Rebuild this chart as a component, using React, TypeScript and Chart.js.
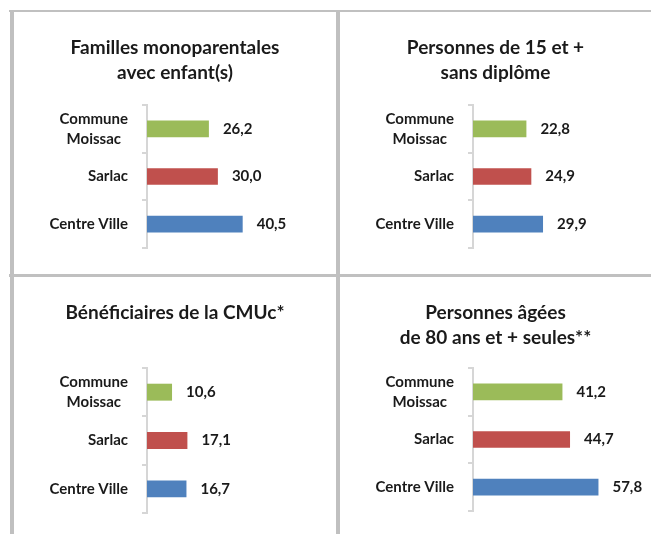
import React, { useEffect, useRef } from 'react';
import { Chart, registerables } from 'chart.js';

Chart.register(...registerables);

const categories: (string | string[])[] = [['Commune', 'Moissac'], 'Sarlac', 'Centre Ville'];
const barColors = ['#9bbb59', '#c0504d', '#4f81bd'];

const titleFamilles = ['Familles monoparentales', 'avec enfant(s)'];
const valuesFamilles = [26.2, 30.0, 40.5];

const titleDiplome = ['Personnes de 15 et +', 'sans diplôme'];
const valuesDiplome = [22.8, 24.9, 29.9];

const titleCmu = ['Bénéficiaires de la CMUc*'];
const valuesCmu = [10.6, 17.1, 16.7];

const titleAges = ['Personnes âgées', 'de 80 ans et + seules**'];
const valuesAges = [41.2, 44.7, 57.8];

const FONT = 'Lato, "Open Sans", sans-serif';
const TEXT = '#1a1a1a';
const LINE = '#c0c0c0';

const valueLabels = {
  id: 'valueLabels',
  afterDatasetsDraw(chart: any) {
    const ctx = chart.ctx;
    const meta = chart.getDatasetMeta(0);
    const data = chart.data.datasets[0].data as number[];
    ctx.save();
    ctx.font = `bold 15px ${FONT}`;
    ctx.fillStyle = TEXT;
    ctx.textAlign = 'left';
    ctx.textBaseline = 'middle';
    meta.data.forEach((bar: any, i: number) => {
      ctx.fillText(data[i].toFixed(1).replace('.', ','), bar.x + 14, bar.y);
    });
    ctx.restore();
  },
};

// Category labels: block right-aligned to the axis, lines of a block centred on each other
const categoryLabels = {
  id: 'categoryLabels',
  afterDraw(chart: any) {
    const scale = chart.scales.y;
    const ctx = chart.ctx;
    const labels = chart.data.labels as (string | string[])[];
    ctx.save();
    ctx.font = `bold 15px ${FONT}`;
    ctx.fillStyle = TEXT;
    ctx.textAlign = 'center';
    ctx.textBaseline = 'middle';
    const right = chart.chartArea.left - 19;
    const lh = 20;
    labels.forEach((label, i) => {
      const lines = Array.isArray(label) ? label : [label];
      const w = Math.max(...lines.map((l) => ctx.measureText(l).width));
      const cx = right - w / 2;
      const y0 = scale.getPixelForTick(i) - ((lines.length - 1) * lh) / 2;
      lines.forEach((l, j) => ctx.fillText(l, cx, y0 + j * lh));
    });
    ctx.restore();
  },
};

type PanelProps = {
  left: number;
  top: number;
  width: number;
  height: number;
  title: string[];
  values: number[];
  xMax: number;
  titlePadBottom: number;
  padBottom: number;
};

function Panel({ left, top, width, height, title, values, xMax, titlePadBottom, padBottom }: PanelProps) {
  const ref = useRef<HTMLCanvasElement | null>(null);
  useEffect(() => {
    if (!ref.current) return;
    const chart = new Chart(ref.current, {
      type: 'bar',
      data: {
        labels: categories,
        datasets: [
          {
            data: values,
            backgroundColor: barColors,
            borderWidth: 0,
            barPercentage: 0.35,
            categoryPercentage: 1,
          },
        ],
      },
      options: {
        indexAxis: 'y',
        animation: false,
        responsive: false,
        maintainAspectRatio: false,
        layout: { padding: { top: 0, bottom: padBottom, left: 0, right: 0 } },
        plugins: {
          legend: { display: false },
          tooltip: { enabled: false },
          title: {
            display: true,
            text: title,
            color: TEXT,
            font: { family: FONT, size: 19, weight: 'bold', lineHeight: '25px' },
            padding: { top: 23, bottom: titlePadBottom },
          },
        },
        scales: {
          x: { display: false, min: 0, max: xMax },
          y: {
            afterFit: (s: any) => {
              s.width = 133;
              s.paddingTop = 0;
              s.paddingBottom = 0;
            },
            grid: {
              display: true,
              drawOnChartArea: false,
              drawTicks: true,
              tickLength: 5,
              color: '#d6d6d6',
              lineWidth: 2,
            },
            border: { display: true, color: '#d6d6d6', width: 2 },
            ticks: {
              display: false,
              color: TEXT,
              padding: 14,
              font: { family: FONT, size: 15, weight: 'bold', lineHeight: '20px' },
            },
          },
        },
      },
      plugins: [valueLabels, categoryLabels],
    });
    return () => chart.destroy();
  }, []);
  return (
    <canvas
      ref={ref}
      width={width}
      height={height}
      style={{ position: 'absolute', left, top, width, height }}
    />
  );
}

export default function App() {
  return (
    <div
      style={{
        position: 'fixed',
        left: 0,
        top: 0,
        width: 651,
        height: 534,
        background: '#ffffff',
        overflow: 'hidden',
      }}
    >
      <div style={{ position: 'absolute', left: 9, top: 10, width: 642, height: 2, background: LINE }} />
      <div style={{ position: 'absolute', left: 10, top: 10, width: 4, height: 524, background: LINE }} />
      <div style={{ position: 'absolute', left: 336, top: 10, width: 4, height: 524, background: LINE }} />
      <div style={{ position: 'absolute', left: 9, top: 274, width: 642, height: 3, background: LINE }} />
      <Panel left={14} top={12} width={322} height={262} title={titleFamilles} values={valuesFamilles} xMax={80} titlePadBottom={20} padBottom={26} />
      <Panel left={340} top={12} width={311} height={262} title={titleDiplome} values={valuesDiplome} xMax={76} titlePadBottom={20} padBottom={26} />
      <Panel left={14} top={277} width={322} height={257} title={titleCmu} values={valuesCmu} xMax={80} titlePadBottom={43} padBottom={21} />
      <Panel left={340} top={277} width={311} height={257} title={titleAges} values={valuesAges} xMax={82} titlePadBottom={18} padBottom={23} />
    </div>
  );
}
